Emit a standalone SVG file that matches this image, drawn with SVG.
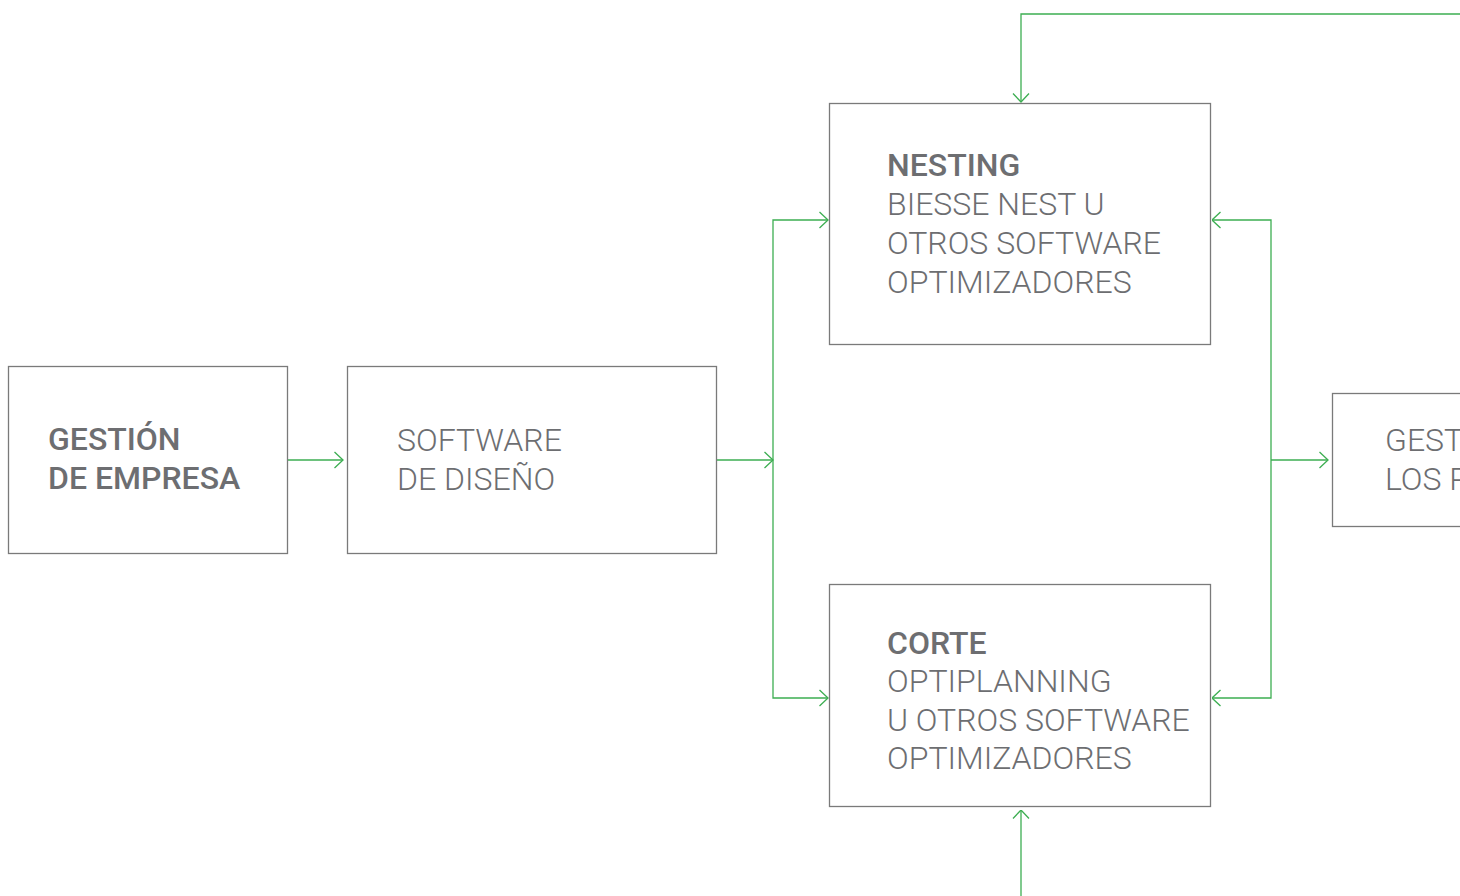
<svg xmlns="http://www.w3.org/2000/svg" width="1460" height="896" viewBox="0 0 1460 896">
<defs>
<marker id="arr" viewBox="0 0 10 18" refX="9.5" refY="9" markerWidth="10" markerHeight="18" markerUnits="userSpaceOnUse" orient="auto">
<path d="M1,1 L9.5,9 L1,17" fill="none" stroke="#3dae52" stroke-width="1.3"/>
</marker>
<style>
.box{fill:#fff;stroke:#7a7a7a;stroke-width:1.3}
.t{font-family:Roboto,"Liberation Sans",sans-serif;font-size:32px;fill:#6d6e71;font-weight:300}
.b{font-weight:500}
.c{fill:none;stroke:#3dae52;stroke-width:1.3}
</style>
</defs>
<rect width="1460" height="896" fill="#fff"/>
<g id="connectors">
<path class="c" d="M288,460 H343" marker-end="url(#arr)"/>
<path class="c" d="M717,460 H773" marker-end="url(#arr)"/>
<path class="c" d="M773,460 V220 H828" marker-end="url(#arr)"/>
<path class="c" d="M773,460 V698 H828" marker-end="url(#arr)"/>
<path class="c" d="M1271,460 V220 H1212" marker-end="url(#arr)"/>
<path class="c" d="M1271,460 V698 H1212" marker-end="url(#arr)"/>
<path class="c" d="M1271,460 H1328" marker-end="url(#arr)"/>
<path class="c" d="M1460,14 H1021 V102" marker-end="url(#arr)"/>
<path class="c" d="M1021,896 V810" marker-end="url(#arr)"/>
</g>
<g id="gestion-empresa">
<rect class="box" x="8.5" y="366.5" width="279" height="187"/>
<text class="t b" x="48" y="450">GESTIÓN</text>
<text class="t b" x="48" y="489">DE EMPRESA</text>
</g>
<g id="software-diseno">
<rect class="box" x="347.5" y="366.5" width="369" height="187"/>
<text class="t" x="397" y="451">SOFTWARE</text>
<text class="t" x="397" y="490">DE DISEÑO</text>
</g>
<g id="nesting">
<rect class="box" x="829.5" y="103.5" width="381" height="241"/>
<text class="t b" x="887" y="176">NESTING</text>
<text class="t" x="887" y="215">BIESSE NEST U</text>
<text class="t" x="887" y="254">OTROS SOFTWARE</text>
<text class="t" x="887" y="293">OPTIMIZADORES</text>
</g>
<g id="corte">
<rect class="box" x="829.5" y="584.5" width="381" height="222"/>
<text class="t b" x="887" y="654">CORTE</text>
<text class="t" x="887" y="692">OPTIPLANNING</text>
<text class="t" x="887" y="731">U OTROS SOFTWARE</text>
<text class="t" x="887" y="769">OPTIMIZADORES</text>
</g>
<g id="gestion-procesos">
<rect class="box" x="1332.5" y="393.5" width="140" height="133"/>
<text class="t" x="1385" y="451">GEST</text>
<text class="t" x="1385" y="490">LOS P</text>
</g>
</svg>
